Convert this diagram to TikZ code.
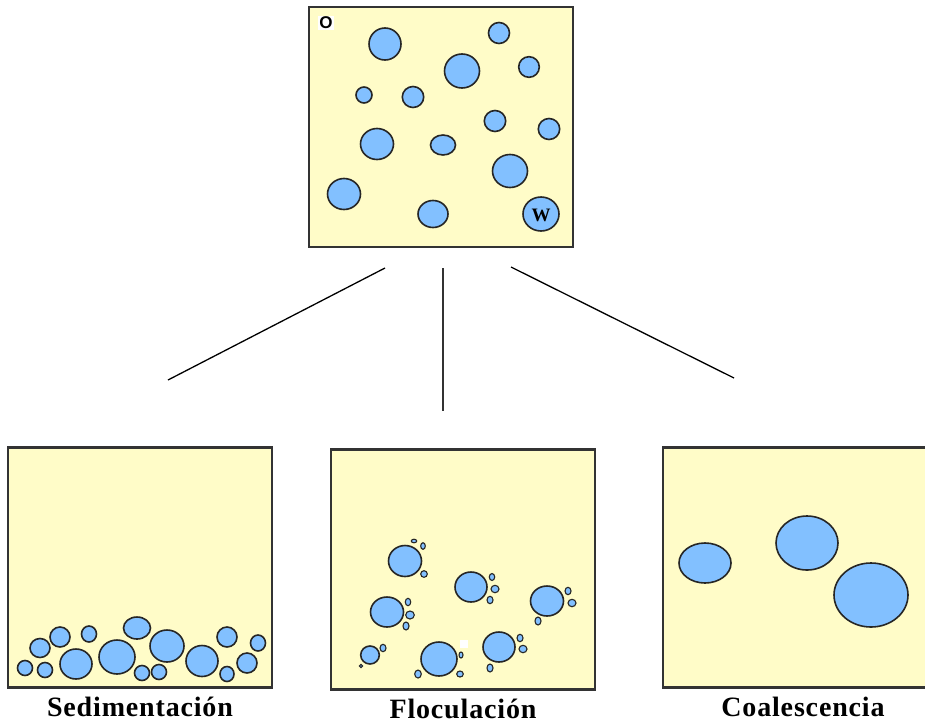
\documentclass[tikz,border=0pt]{standalone}
\usepackage{fontspec}
\setmainfont{Liberation Serif}
\newfontfamily\labelsans{Liberation Sans}
\newfontfamily\captionfont[LetterSpace=3]{Liberation Serif}
\usetikzlibrary{positioning}
\definecolor{emulsion}{RGB}{255,252,200}
\definecolor{droplet}{RGB}{130,192,255}

\begin{document}
\begin{tikzpicture}[
	x=1pt, y=-1pt,
	panel/.style={draw=black!80, line width=2.2pt, fill=emulsion, minimum width=264pt, minimum height=240pt, inner sep=0pt},
	drop/.style={draw=black!85, line width=1.6pt, fill=droplet},
	speck/.style={draw=black!85, line width=1.1pt, fill=droplet},
	link/.style={line width=1.3pt},
	caption/.style={font=\captionfont\fontsize{28}{30}\selectfont\bfseries}
	]
	
	% page frame
	\clip (0,0) rectangle (925,726);
	
	% the four sample boxes
	\node[panel] (T) at (441,127) {};
	\node[panel] (S) at (140,567.5) {};
	\node[panel] (F) at (463,569.5) {};
	\node[panel] (C) at (795,567.5) {};
	
	% starting emulsion
	\foreach \x/\y/\rx/\ry in {385/44/16/16, 499/33/10.5/10.5, 462/71/17.5/17,
		529/67/10.3/10.3, 364/95/8/8, 413/97/10.7/10.5, 495/121/10.7/10.5,
		549/129/10.7/10.5, 377/144/16.5/15.5, 443/145/12.5/10, 510/171/17.5/16.5,
		344/194/16.5/15.5, 433/214/15/13.5, 541/214/18/17}
		\draw[drop] (\x,\y) ellipse [x radius=\rx pt, y radius=\ry pt];
	\node[fill=white, inner sep=1pt, font=\labelsans\fontsize{17}{17}\selectfont\bfseries] (o) at (326,23) {O};
	\node[font=\fontsize{19}{19}\selectfont\bfseries] (w) at (541,215) {W};
	
	% sedimentation: drops settled at the bottom
	\foreach \x/\y/\rx/\ry in {25/668/7.5/7.5, 45/670/7.5/7.5, 40/648/10/9.5,
		60/637/10/10, 76/664/16/15, 89/634/7.5/8, 117/657/18/17, 137/628/13.5/11,
		142/673/7.5/7.5, 159/672/7.5/7.5, 167/646/17/16, 202/661/16/15.5,
		227/637/10/10, 227/674/7/7.5, 247/663/10/10, 258/643/7.5/8}
		\draw[drop] (\x,\y) ellipse [x radius=\rx pt, y radius=\ry pt];
	
	% flocculation: big drops with small ones stuck to them
	\foreach \x/\y/\rx/\ry in {405/561/16.5/15.5, 471/587/16/15, 547/601/16.5/15,
		387/612/16.5/15, 370/655/9.3/9, 439/659/18/17, 499/647/16/15}
		\draw[drop] (\x,\y) ellipse [x radius=\rx pt, y radius=\ry pt];
	\foreach \x/\y/\rx/\ry in {414/541/2.7/1.8, 423/546/2.3/3.3, 424/574/3.3/3.3,
		492/577/2.7/3.5, 495/589/4/3.7, 490/600/3/3.7, 568/591/3/3.7, 572/603/4/3.7,
		538/621/3/4, 408/602/2.7/3.7, 410/615/4.3/4, 406/626/3/4, 383/648/3/3.7,
		361/666/1.7/1.7, 461/655/2/3, 460/674/3.3/3, 418/674/3.3/4, 520/638/3/3.7,
		523/649/4/3.7, 490/668/3/4}
		\draw[speck] (\x,\y) ellipse [x radius=\rx pt, y radius=\ry pt];
	\fill[white] (460,640) rectangle (468,648);
	
	% coalescence: a few large drops
	\foreach \x/\y/\rx/\ry in {705/563/26/20, 807/543/31/27, 871/595/37/32}
		\draw[drop] (\x,\y) ellipse [x radius=\rx pt, y radius=\ry pt];
	
	% captions
	\node[caption, below=5pt of S] (s) {Sedimentación};
	\node[caption, below=5pt of F] (f) {Floculación};
	\node[caption, below=5pt of C, xshift=8pt] (c) {Coalescencia};
	
	% branches
	\coordinate (l1) at (385,268);
	\coordinate (l2) at (168,380);
	\coordinate (m1) at (443,268);
	\coordinate (m2) at (443,411);
	\coordinate (r1) at (511,267);
	\coordinate (r2) at (734,378);
	\draw[link] (l1) -- (l2);
	\draw[link, line width=1.8pt, black!80] (m1) -- (m2);
	\draw[link] (r1) -- (r2);
	
\end{tikzpicture}
\end{document}
